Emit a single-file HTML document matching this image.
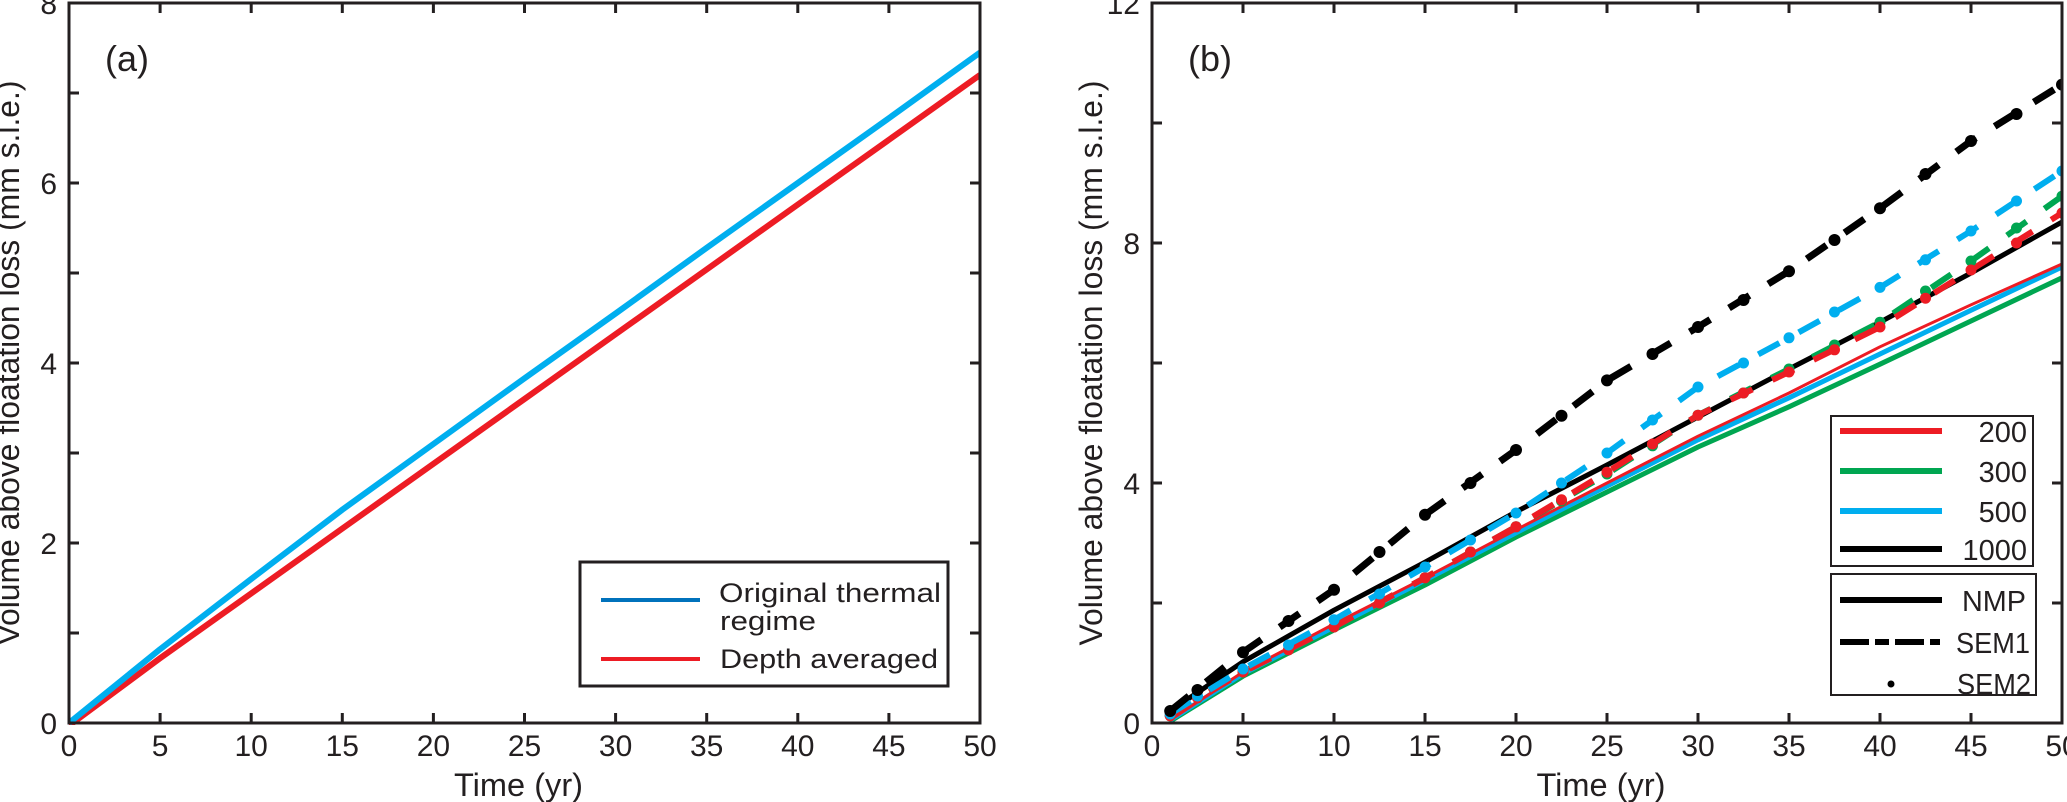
<!DOCTYPE html>
<html><head><meta charset="utf-8"><style>
html,body{margin:0;padding:0;background:#fff;}
svg{display:block;font-family:"Liberation Sans",Arial,sans-serif;}
</style></head><body>
<svg id="fig" width="2067" height="802" viewBox="0 0 2067 802" xmlns="http://www.w3.org/2000/svg"></svg>
<script>
// ---------- Panel (a) data ----------
const aYears = [0,5,10,15,20,25,30,35,40,45,50];
const aOriginal = [0,0.82,1.6,2.37,3.1,3.83,4.55,5.28,6.0,6.72,7.45];
const aDepthAvg = [-0.03,0.72,1.44,2.16,2.88,3.6,4.32,5.04,5.76,6.48,7.2];
const aXTicks = [0,5,10,15,20,25,30,35,40,45,50];
const aYTickLabels = [0,2,4,6,8];
const aYMinor = [1,3,5,7];

// ---------- Panel (b) data ----------
const bYears = [1,5,10,15,20,25,30,35,40,45,50];
const nmp200 = [0.05,0.85,1.65,2.42,3.22,4.0,4.78,5.5,6.27,6.97,7.65];
const nmp300 = [0.03,0.78,1.55,2.3,3.1,3.85,4.6,5.27,5.98,6.7,7.42];
const nmp500 = [0.05,0.82,1.6,2.38,3.17,3.95,4.72,5.42,6.15,6.88,7.6];
const nmp1000 = [0.2,1.02,1.88,2.68,3.52,4.3,5.1,5.9,6.68,7.5,8.35];
const sem1_200 = [0.12,0.85,1.6,2.42,3.27,4.18,5.13,5.85,6.6,7.55,8.5];
const sem1_300 = [0.12,0.85,1.6,2.42,3.27,4.15,5.13,5.9,6.68,7.7,8.78];
const sem1_500 = [0.15,0.9,1.72,2.6,3.5,4.5,5.6,6.42,7.26,8.2,9.2];
const sem1_1000 = [0.2,1.18,2.22,3.47,4.55,5.71,6.6,7.53,8.58,9.7,10.64];
const semDotYears = [1,2.5,5,7.5,10,12.5,15,17.5,20,22.5,25,27.5,30,32.5,35,37.5,40,42.5,45,47.5,50];
const sem2_200 = [0.12,0.42,0.85,1.22,1.6,2.0,2.42,2.85,3.27,3.72,4.18,4.65,5.13,5.5,5.85,6.22,6.6,7.08,7.55,8.0,8.5];
const sem2_300 = [0.12,0.42,0.85,1.22,1.6,2.0,2.42,2.85,3.27,3.7,4.15,4.62,5.13,5.5,5.9,6.3,6.68,7.2,7.7,8.25,8.78];
const sem2_500 = [0.15,0.45,0.9,1.3,1.72,2.15,2.6,3.05,3.5,4.0,4.5,5.05,5.6,6.0,6.42,6.85,7.26,7.72,8.2,8.7,9.2];
const sem2_1000 = [0.2,0.55,1.18,1.7,2.22,2.85,3.47,4.0,4.55,5.12,5.71,6.15,6.6,7.05,7.53,8.05,8.58,9.15,9.7,10.15,10.64];
const bXTicks = [0,5,10,15,20,25,30,35,40,45,50];
const bYTickLabels = [0,4,8,12];
const bYMinor = [2,6,10];
const bLegendSizes = ['200','300','500','1000'];

const NS = 'http://www.w3.org/2000/svg';
const svg = document.getElementById('fig');
function mk(tag, attrs, parent, text){
  const e = document.createElementNS(NS, tag);
  for (const k in attrs) e.setAttribute(k, attrs[k]);
  if (text !== undefined) e.textContent = text;
  (parent||svg).appendChild(e);
  return e;
}
const RED='#ed1c24', GREEN='#00a651', BLUE='#00aeef', BLACK='#000';

function panel(name, L, R, T, B, ymax, xTicks, yLabels, yMinor, tag){
  const g = mk('g', {});
  
  
  const sx = v => L + (v/50)*(R-L);
  const sy = v => B - (v/ymax)*(B-T);
  const tg = mk('g', {stroke:'#231f20','stroke-width':3}, g);
  
  
  xTicks.forEach(t=>{
    if (t===0||t===50) return;
    mk('line',{x1:sx(t),x2:sx(t),y1:B,y2:B-10},tg);
    mk('line',{x1:sx(t),x2:sx(t),y1:T,y2:T+10},tg);
  });
  yLabels.concat(yMinor).forEach(v=>{
    if (v===0||v===ymax) return;
    mk('line',{x1:L,x2:L+10,y1:sy(v),y2:sy(v)},tg);
    mk('line',{x1:R,x2:R-10,y1:sy(v),y2:sy(v)},tg);
  });
  xTicks.forEach(t=>{
    const tx = mk('text',{x:sx(t),y:756,'font-size':30,'text-anchor':'middle',fill:'#231f20'},g,String(t));
    
    
  });
  yLabels.forEach(v=>{
    const ty = mk('text',{x:L-12,y:sy(v)+11,'font-size':30,'text-anchor':'end',fill:'#231f20'},g,String(v));
    
    
  });
  const xt = mk('text',{x:(L+R)/2-6,y:796,'font-size':32,'text-anchor':'middle',textLength:129,lengthAdjust:'spacingAndGlyphs',fill:'#231f20'},g,'Time (yr)');
  
  
  const yx = L-50, yc = (T+B)/2;
  const yt = mk('text',{x:yx,y:yc,'font-size':32,'text-anchor':'middle',textLength:565,lengthAdjust:'spacingAndGlyphs',transform:`rotate(-90 ${yx} ${yc})`,fill:'#231f20'},g,'Volume above floatation loss (mm s.l.e.)');
  
  
  const pl = mk('text',{x:L+36,y:T+68,'font-size':36,fill:'#231f20'},g,tag);
  
  
  const clip = mk('clipPath',{id:'clip'+name},g);
  mk('rect',{x:L,y:T-2,width:R-L,height:B-T+4},clip);
  const plot = mk('g',{'clip-path':`url(#clip${name})`},g);
  
  
  return {g, plot, sx, sy, L, R, T, B};
}
function series(p, xs, ys, color, width, dash, name){
  const d = xs.map((x,i)=>(i?'L':'M')+p.sx(x).toFixed(1)+' '+p.sy(ys[i]).toFixed(1)).join(' ');
  const a = {d, fill:'none', stroke:color, 'stroke-width':width, 'stroke-linejoin':'round'};
  if (dash) a['stroke-dasharray']=dash;
  const e = mk('path', a, p.plot);
  
  
}
function dots(p, xs, ys, color, r, name){
  const g = mk('g',{fill:color}, p.plot);
  
  
  xs.forEach((x,i)=>{
    const c = mk('circle',{cx:p.sx(x),cy:p.sy(ys[i]),r}, g);
    
    
  });
}
function frame(p){
  const f = mk('rect',{x:p.L,y:p.T,width:p.R-p.L,height:p.B-p.T,fill:'none',stroke:'#231f20','stroke-width':3}, p.g);
  
  
}

// ----- Panel a -----
const pa = panel('panel-a', 69, 980, 3, 723, 8, aXTicks, aYTickLabels, aYMinor, '(a)');
series(pa, aYears, aDepthAvg, RED, 6, null, 'depth-averaged-line');
series(pa, aYears, aOriginal, BLUE, 6, null, 'original-thermal-line');
frame(pa);
const la = mk('g',{}, pa.g);


mk('rect',{x:580,y:562,width:368,height:124,fill:'#fff',stroke:'#231f20','stroke-width':3}, la);
mk('line',{x1:601,x2:700,y1:600,y2:600,stroke:'#0072bc','stroke-width':4}, la);
mk('line',{x1:601,x2:700,y1:659,y2:659,stroke:RED,'stroke-width':4}, la);
const t1 = mk('text',{x:719,y:602,'font-size':27,textLength:222,lengthAdjust:'spacingAndGlyphs',fill:'#231f20'}, la, 'Original thermal');
 
const t2 = mk('text',{x:720,y:630,'font-size':27,textLength:96,lengthAdjust:'spacingAndGlyphs',fill:'#231f20'}, la, 'regime');
 
const t3 = mk('text',{x:720,y:668,'font-size':27,textLength:218,lengthAdjust:'spacingAndGlyphs',fill:'#231f20'}, la, 'Depth averaged');
 

// ----- Panel b -----
const pb = panel('panel-b', 1152, 2062, 3, 723, 12, bXTicks, bYTickLabels, bYMinor, '(b)');
const DASH = '29 6 14 6';
const DDASH = '24 22';
series(pb, bYears, nmp300, GREEN, 5, null, 'nmp-300-line');
series(pb, bYears, nmp500, BLUE, 5, null, 'nmp-500-line');
series(pb, bYears, nmp200, RED, 3, null, 'nmp-200-line');
series(pb, bYears, nmp1000, BLACK, 5, null, 'nmp-1000-line');
series(pb, bYears, sem1_300, GREEN, 6, DDASH, 'sem1-300-line');
series(pb, bYears, sem1_200, RED, 6, DDASH, 'sem1-200-line');
series(pb, bYears, sem1_500, BLUE, 6, DDASH, 'sem1-500-line');
series(pb, bYears, sem1_1000, BLACK, 7, DDASH, 'sem1-1000-line');
dots(pb, semDotYears, sem2_300, GREEN, 5.5, 'sem2-300-points');
dots(pb, semDotYears, sem2_200, RED, 5.5, 'sem2-200-points');
dots(pb, semDotYears, sem2_500, BLUE, 5.5, 'sem2-500-points');
dots(pb, semDotYears, sem2_1000, BLACK, 6, 'sem2-1000-points');
frame(pb);

const lb = mk('g',{}, pb.g);


mk('rect',{x:1831,y:416,width:202,height:150,fill:'#fff',stroke:'#231f20','stroke-width':2}, lb);
const lbColors = [RED, GREEN, BLUE, BLACK];
const lbY = [431, 471, 511, 549];
bLegendSizes.forEach((s,i)=>{
  mk('line',{x1:1840,x2:1942,y1:lbY[i],y2:lbY[i],stroke:lbColors[i],'stroke-width':6}, lb);
  const t = mk('text',{x:2027,y:lbY[i]+11,'font-size':29,'text-anchor':'end',fill:'#231f20'}, lb, s);
  
  
});
const lb2 = mk('g',{}, pb.g);


mk('rect',{x:1831,y:574,width:205,height:121,fill:'#fff',stroke:'#231f20','stroke-width':2}, lb2);
mk('line',{x1:1840,x2:1942,y1:600,y2:600,stroke:BLACK,'stroke-width':6}, lb2);
mk('line',{x1:1840,x2:1940,y1:642,y2:642,stroke:BLACK,'stroke-width':6,'stroke-dasharray':DASH}, lb2);
mk('circle',{cx:1891,cy:684,r:3.5,fill:BLACK}, lb2);
[['NMP',1962,611],['SEM1',1956,653],['SEM2',1957,694]].forEach(([s,x,y])=>{
  const t = mk('text',{x,y,'font-size':29,fill:'#231f20',textLength:s==='NMP'?64:74,lengthAdjust:'spacingAndGlyphs'}, lb2, s);
  
  
});
</script>
</body></html>
